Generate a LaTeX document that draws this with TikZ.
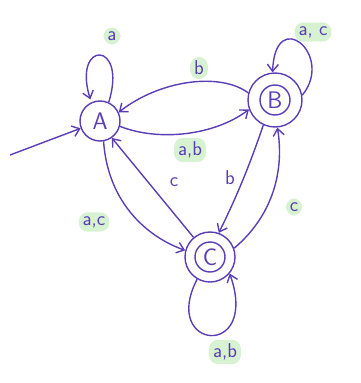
\documentclass[tikz,border=0pt]{standalone}
\usetikzlibrary{arrows.meta}
\definecolor{ink}{HTML}{5B3DB5}
\definecolor{hl}{HTML}{D6F2D0}
\begin{document}
\begin{tikzpicture}[x=1pt,y=-1pt,line width=1.4pt,draw=ink,
  state/.style={circle,draw=ink,inner sep=0pt,font=\fontsize{24}{26}\selectfont\sffamily,text=ink},
  arr/.style={-{Straight Barb[length=7pt,width=11pt]},draw=ink},
  lbl/.style={text=ink,font=\fontsize{20}{22}\selectfont\sffamily,inner sep=1pt},
  glbl/.style={lbl,fill=hl,rounded corners=9pt,inner sep=4pt}]
\useasboundingbox (0,0) rectangle (360,383);
\node[state,minimum size=40pt] (A) at (100,121) {A};
\node[state,minimum size=54pt] (B) at (275,100) {B};
\node[state,minimum size=50pt] (C) at (210,257) {C};
\draw (B.center) circle (15pt);
\draw (C.center) circle (15pt);
\coordinate (s) at (10,155);
\draw[arr] (s) -- (A);
% A loop
\draw[arr,shorten >=3pt] (A.65) .. controls (128,40) and (72,40) .. (A.115);
% B -> A
\draw[arr] (B.165) .. controls (220,72) and (160,80) .. (A.25);
% A -> B
\draw[arr] (A.-15) .. controls (160,142) and (215,135) .. (B.200);
% B loop
\draw[arr] (B.10) .. controls (335,55) and (275,5) .. (B.95);
% C -> A
\draw[arr] (C.130) -- (A.-55);
% A -> C
\draw[arr] (A.-80) .. controls (108,205) and (150,238) .. (C.165);
% B -> C
\draw[arr] (B.-115) .. controls (248,170) and (235,200) .. (C.70);
% C loop
\draw[arr] (C.-120) .. controls (160,350) and (260,360) .. (C.-40);
% C -> B
\draw[arr] (C.20) .. controls (270,218) and (285,175) .. (B.-85);
% labels
\node[glbl] (la) at (112,36) {a};
\node[glbl] (lb1) at (199,68) {b};
\node[glbl] (lab1) at (190,150) {a,b};
\node[glbl] (lac1) at (313,32) {a, c};
\node[lbl] (lc1) at (174,182) {c};
\node[lbl] (lb2) at (230,178) {b};
\node[glbl] (lac2) at (94,222) {a,c};
\node[glbl] (lc2) at (294,207) {c};
\node[glbl] (lab2) at (225,352) {a,b};
\end{tikzpicture}
\end{document}
